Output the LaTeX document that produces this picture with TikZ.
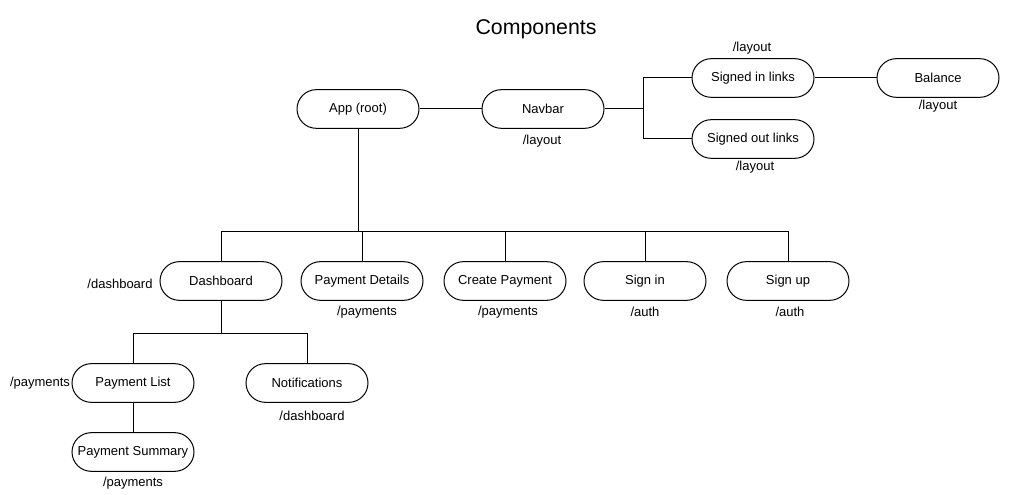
\documentclass[tikz,border=0pt]{standalone}
\usepackage{fontspec}
\setmainfont{Liberation Sans}
\begin{document}
\begin{tikzpicture}[x=0.75pt,y=-0.75pt,
    comp/.style={draw, line width=0.75pt, rounded corners=14.5pt, minimum width=91.5pt,
        minimum height=29pt, inner sep=0pt, font=\fontsize{9.75}{12}\selectfont},
    route/.style={inner sep=0pt, font=\fontsize{9.75}{12}\selectfont},
    wire/.style={line width=0.75pt}]
                \useasboundingbox (0,0) rectangle (1011,495);
                \node[font=\fontsize{16}{19}\selectfont] (title) at (536,29) {Components};

                \node[comp] (app) at (358,109) {App (root)};
                \node[comp] (navbar) at (543,109) {Navbar};
                \node[comp] (signedin) at (753,78) {Signed in links};
                \node[comp] (signedout) at (753,139) {Signed out links};
                \node[comp] (balance) at (938,78) {Balance};

                \node[comp] (dash) at (221,281) {Dashboard};
                \node[comp] (details) at (362,281) {Payment Details};
                \node[comp] (create) at (505,281) {Create Payment};
                \node[comp] (login) at (645,281) {Sign in};
                \node[comp] (signup) at (788,281) {Sign up};

                \node[comp] (list) at (133,383) {Payment List};
                \node[comp] (notif) at (307,383) {Notifications};
                \node[comp] (summary) at (133,452) {Payment Summary};

                \node[route] (lblnavbar) at (542,141) {/layout};
                \node[route] (lblsignedin) at (752,48) {/layout};
                \node[route] (lblsignedout) at (755,167) {/layout};
                \node[route] (lblbalance) at (938,106) {/layout};
                \node[route] (lbldash) at (120,284) {/dashboard};
                \node[route] (lbldetails) at (367,312) {/payments};
                \node[route] (lblcreate) at (508,312) {/payments};
                \node[route] (lbllogin) at (645,312) {/auth};
                \node[route] (lblsignup) at (790,312) {/auth};
                \node[route] (lbllist) at (40,383) {/payments};
                \node[route] (lblnotif) at (312,416) {/dashboard};
                \node[route] (lblsummary) at (133,483) {/payments};

                \coordinate (fork) at (643,109);
                \coordinate (bus) at (358,232);
                \coordinate (subbus) at (221,334);

                \draw[wire]
                    (app) -- (navbar)
                    (navbar) -- (fork) |- (signedin)
                    (fork) |- (signedout)
                    (signedin) -- (balance)

                    (app) -- (bus)
                    (bus) -| (dash)
                    (bus) -| (details)
                    (bus) -| (create)
                    (bus) -| (login)
                    (bus) -| (signup)

                    (dash) -- (subbus)
                    (subbus) -| (list)
                    (subbus) -| (notif)
                    (list) -- (summary)
                    ;
            \end{tikzpicture}
\end{document}
